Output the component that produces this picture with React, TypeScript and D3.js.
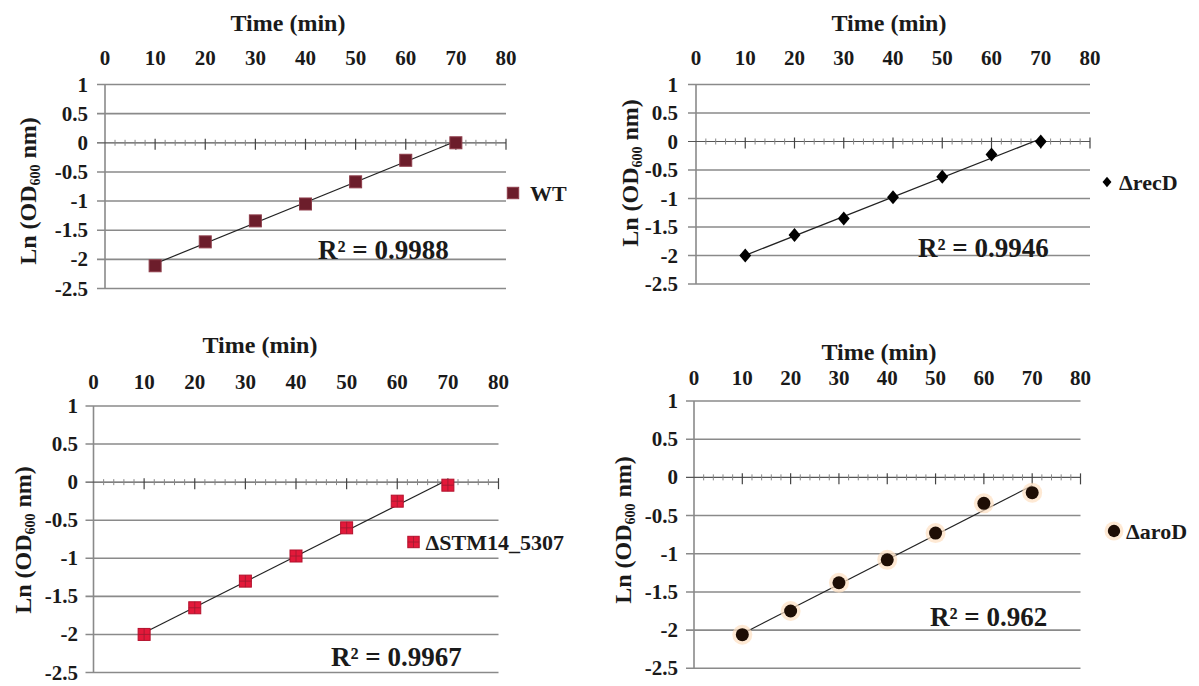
import React from "react";
import * as d3 from "d3";

// time points (min) and Ln(OD600) readings for each strain
const times = [10, 20, 30, 40, 50, 60, 70];
const wtValues = [-2.11, -1.7, -1.34, -1.05, -0.67, -0.3, 0.0];
const recDValues = [-2.0, -1.64, -1.35, -0.98, -0.62, -0.23, 0.0];
const stmValues = [-2.0, -1.65, -1.3, -0.97, -0.6, -0.25, -0.04];
const aroDValues = [-2.06, -1.75, -1.38, -1.08, -0.73, -0.34, -0.2];

const seriesNames = ["WT", "ΔrecD", "ΔSTM14_5307", "ΔaroD"];
const r2Labels = ["R² = 0.9988", "R² = 0.9946", "R² = 0.9967", "R² = 0.962"];

const xTicks = [0, 10, 20, 30, 40, 50, 60, 70, 80];
const yTicks = [1, 0.5, 0, -0.5, -1, -1.5, -2, -2.5];
const minorTicks = d3.range(0, 81, 2).filter((d) => d % 10 !== 0);

const FONT = "'Liberation Serif', 'Times New Roman', serif";
const INK = "#1a1a1a";

// where each panel sits on the page
const frames = [
  { x0: 105, x1: 506, y0: 84.5, y1: 288.5, tickY: 58, title: [288, 23], ylab: [28, 191], yTickR: 88, r2: [318, 250], leg: [513, 193] },
  { x0: 696, x1: 1090, y0: 84.5, y1: 284, tickY: 58, title: [889, 23], ylab: [630, 173], yTickR: 678, r2: [918, 248], leg: [1107, 182] },
  { x0: 93.5, x1: 498.5, y0: 406, y1: 672.5, tickY: 382, title: [260, 345], ylab: [23, 540], yTickR: 78, r2: [331, 657], leg: [413.5, 542] },
  { x0: 694, x1: 1080.5, y0: 401, y1: 668.3, tickY: 377.5, title: [879, 352], ylab: [623, 530], yTickR: 678, r2: [930, 617], leg: [1114, 531] },
];

const markerKinds = ["square", "diamond", "redsquare", "dot"];

function fit(xs: number[], ys: number[]) {
  const mx = d3.mean(xs)!;
  const my = d3.mean(ys)!;
  const sxy = d3.sum(xs, (x, i) => (x - mx) * (ys[i] - my));
  const sxx = d3.sum(xs, (x) => (x - mx) ** 2);
  const b = sxy / sxx;
  return (x: number) => my + b * (x - mx);
}

function Marker({ kind, x, y, s = 1 }: { kind: string; x: number; y: number; s?: number }) {
  if (kind === "square") {
    const h = 6 * s;
    return <rect x={x - h} y={y - h} width={2 * h} height={2 * h} fill="#6c1d2b" stroke="#8e3d4a" strokeWidth={1} />;
  }
  if (kind === "redsquare") {
    const h = 6 * s;
    return (
      <g>
        <rect x={x - h} y={y - h} width={2 * h} height={2 * h} fill="#e3193a" stroke="#b3102c" strokeWidth={1} />
        <path d={`M${x - h},${y}H${x + h}M${x},${y - h}V${y + h}`} stroke="#9c1a30" strokeWidth={0.8} />
      </g>
    );
  }
  if (kind === "diamond") {
    const h = 7 * s;
    return <path d={`M${x},${y - h}L${x + h * 0.85},${y}L${x},${y + h}L${x - h * 0.85},${y}Z`} fill="#000" />;
  }
  return (
    <g>
      <circle cx={x} cy={y} r={10 * s} fill="#fde0c2" opacity={0.7} />
      <circle cx={x} cy={y} r={6.5 * s} fill="#1e0e05" />
    </g>
  );
}

function Panel({ i, values }: { i: number; values: number[] }) {
  const f = frames[i];
  const x = d3.scaleLinear().domain([0, 80]).range([f.x0, f.x1]);
  const y = d3.scaleLinear().domain([1, -2.5]).range([f.y0, f.y1]);
  const line = fit(times, values);
  const kind = markerKinds[i];

  return (
    <g fontFamily={FONT} fontWeight="bold" fill={INK}>
      {/* horizontal gridlines */}
      {yTicks.filter((t) => t !== 0).map((t) => (
        <line key={t} x1={f.x0 - 8} x2={f.x1} y1={y(t)} y2={y(t)} stroke="#8a8a8a" strokeWidth={1.6} />
      ))}
      {/* vertical axis */}
      <line x1={f.x0} x2={f.x0} y1={y(1)} y2={y(-2.5)} stroke="#8a8a8a" strokeWidth={1.6} />
      {/* x axis at zero */}
      <line x1={f.x0 - 8} x2={f.x1} y1={y(0)} y2={y(0)} stroke="#555" strokeWidth={1.2} />
      {minorTicks.map((t) => (
        <line key={t} x1={x(t)} x2={x(t)} y1={y(0) - 3} y2={y(0) + 3} stroke="#888" strokeWidth={1} />
      ))}
      {xTicks.slice(1).map((t) => (
        <line key={t} x1={x(t)} x2={x(t)} y1={y(0) - 4} y2={y(0) + 7} stroke="#444" strokeWidth={1.2} />
      ))}

      {/* tick labels */}
      {xTicks.map((t) => (
        <text key={t} x={x(t)} y={f.tickY} textAnchor="middle" dominantBaseline="central" fontSize={21}>
          {t}
        </text>
      ))}
      {yTicks.map((t) => (
        <text key={t} x={f.yTickR} y={y(t)} textAnchor="end" dominantBaseline="central" fontSize={21}>
          {t}
        </text>
      ))}

      {/* titles */}
      <text x={f.title[0]} y={f.title[1]} textAnchor="middle" dominantBaseline="central" fontSize={24}>
        Time (min)
      </text>
      <text
        transform={`translate(${f.ylab[0]},${f.ylab[1]}) rotate(-90)`}
        textAnchor="middle"
        dominantBaseline="central"
        fontSize={24}
      >
        Ln (OD<tspan fontSize={14} dy={7}>600</tspan>
        <tspan dy={-7}> nm)</tspan>
      </text>

      {/* trendline and points */}
      <line
        x1={x(times[0])}
        x2={x(times[times.length - 1])}
        y1={y(line(times[0]))}
        y2={y(line(times[times.length - 1]))}
        stroke="#222"
        strokeWidth={1.2}
      />
      {values.map((v, j) => (
        <Marker key={j} kind={kind} x={x(times[j])} y={y(v)} />
      ))}

      <text x={f.r2[0]} y={f.r2[1]} dominantBaseline="central" fontSize={27}>
        {r2Labels[i]}
      </text>

      {/* legend */}
      <Marker kind={kind} x={f.leg[0]} y={f.leg[1]} s={kind === "diamond" ? 0.75 : 0.95} />
      <text x={f.leg[0] + (kind === "square" ? 17 : 12)} y={f.leg[1]} dominantBaseline="central" fontSize={22}>
        {seriesNames[i]}
      </text>
    </g>
  );
}

export default function App() {
  const all = [wtValues, recDValues, stmValues, aroDValues];
  return (
    <svg width={1199} height={686} style={{ position: "absolute", left: 0, top: 0, background: "#fff" }}>
      <rect width={1199} height={686} fill="#fff" />
      {all.map((v, i) => (
        <Panel key={i} i={i} values={v} />
      ))}
    </svg>
  );
}
